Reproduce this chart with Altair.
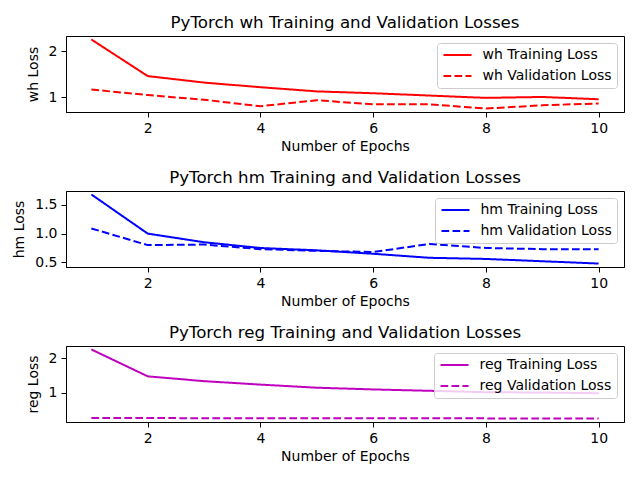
import altair as alt
import pandas as pd

epochs = [1, 2, 3, 4, 5, 6, 7, 8, 9, 10]

wh_train = [2.25, 1.46, 1.32, 1.22, 1.13, 1.09, 1.04, 0.99, 1.01, 0.96]
wh_val = [1.17, 1.05, 0.95, 0.81, 0.94, 0.85, 0.85, 0.76, 0.83, 0.87]

hm_train = [1.68, 1.00, 0.85, 0.75, 0.71, 0.65, 0.58, 0.56, 0.52, 0.48]
hm_val = [1.09, 0.80, 0.81, 0.73, 0.70, 0.68, 0.82, 0.75, 0.73, 0.73]

reg_train = [2.25, 1.47, 1.33, 1.23, 1.14, 1.09, 1.05, 1.01, 1.00, 0.98]
reg_val = [0.26, 0.26, 0.255, 0.25, 0.25, 0.25, 0.25, 0.25, 0.245, 0.245]

x_ticks = [2, 4, 6, 8, 10]
wh_ticks = [1, 2]
hm_ticks = [0.5, 1.0, 1.5]
reg_ticks = [1, 2]

FONT = "DejaVu Sans"


def panel(name, train, val, ticks, fmt, color):
    t_label = f"{name} Training Loss"
    v_label = f"{name} Validation Loss"
    df = pd.DataFrame({
        "epoch": epochs + epochs,
        "loss": train + val,
        "series": [t_label] * len(train) + [v_label] * len(val),
    })
    lo, hi = min(train + val), max(train + val)
    m = 0.05 * (hi - lo)
    leg = alt.Legend(
        title=None,
        orient="top-right",
        offset=7,
        symbolType="M-1.1,0H4.5",
        symbolSize=100,
        symbolStrokeWidth=2,
        labelFontSize=14,
        labelFont=FONT,
        labelColor="black",
        labelOffset=26.5,
        fillColor="rgba(255,255,255,0.8)",
        strokeColor="#cccccc",
        cornerRadius=3,
        padding=5,
        rowPadding=7,
    )
    return alt.Chart(df).mark_line(strokeWidth=2).encode(
        x=alt.X("epoch:Q",
                scale=alt.Scale(domain=[0.55, 10.45], nice=False, zero=False),
                axis=alt.Axis(values=x_ticks, title="Number of Epochs", format="d")),
        y=alt.Y("loss:Q",
                scale=alt.Scale(domain=[lo - m, hi + m], nice=False, zero=False),
                axis=alt.Axis(values=ticks, format=fmt, title=f"{name} Loss",
                              titlePadding=8)),
        color=alt.Color("series:N",
                        scale=alt.Scale(domain=[t_label, v_label], range=[color, color]),
                        legend=leg),
        strokeDash=alt.StrokeDash("series:N",
                                  scale=alt.Scale(domain=[t_label, v_label],
                                                  range=[[1, 0], [7.7, 3.3]]),
                                  legend=leg),
    ).properties(
        width=558,
        height=76,
        title=alt.TitleParams(f"PyTorch {name} Training and Validation Losses",
                              baseline="bottom", offset=-13),
    )


p1 = panel("wh", wh_train, wh_val, wh_ticks, "d", "#ff0000")
p2 = panel("hm", hm_train, hm_val, hm_ticks, ".1f", "#0000ff")
p3 = panel("reg", reg_train, reg_val, reg_ticks, "d", "#bf00bf")

chart = alt.vconcat(p1, p2, p3, spacing=15).resolve_scale(
    color="independent", strokeDash="independent", x="independent", y="independent"
).properties(
    padding={"left": 12, "top": 14, "right": 5, "bottom": 5},
    background="white",
).configure_view(
    stroke="black", strokeWidth=1
).configure_axis(
    grid=False,
    domainColor="black",
    domainWidth=1,
    tickColor="black",
    tickSize=5,
    tickWidth=1,
    labelFont=FONT,
    labelFontSize=14,
    labelColor="black",
    labelPadding=4,
    titleFont=FONT,
    titleFontSize=14,
    titleFontWeight="normal",
    titleColor="black",
    titlePadding=4,
).configure_title(
    font=FONT,
    fontSize=16.67,
    fontWeight="normal",
    color="black",
    anchor="middle",
)

chart.save("out.html", embed_options={"renderer": "svg", "actions": False})
